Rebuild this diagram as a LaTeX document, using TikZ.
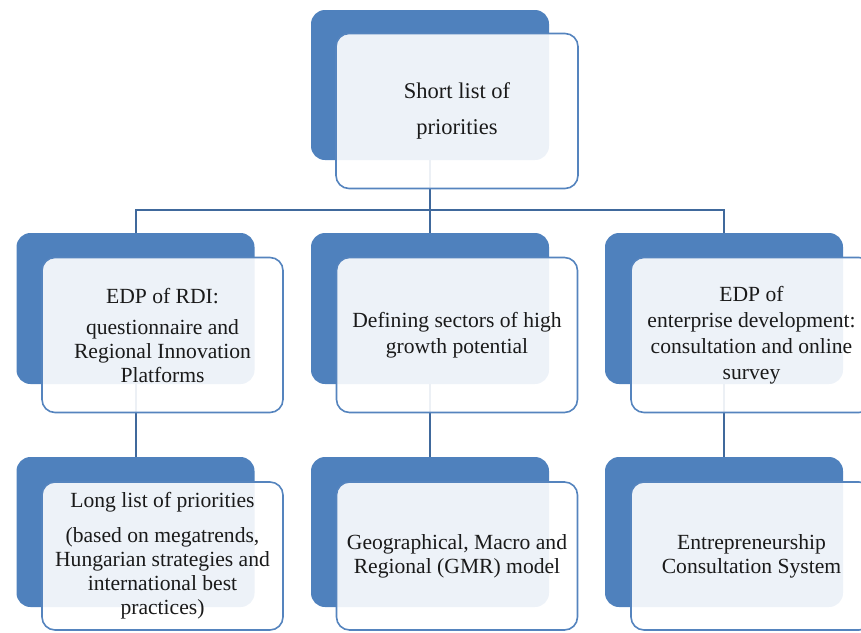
\documentclass[tikz,border=0pt]{standalone}
\usepackage{fontspec}
\setmainfont{Liberation Serif}
\definecolor{accent}{HTML}{4F81BD}
\definecolor{connector}{HTML}{40699C}
\definecolor{frontline}{HTML}{5584BE}
\definecolor{txt}{HTML}{1A1A1A}
\begin{document}
\begin{tikzpicture}[x=1pt,y=-1pt,
  backbox/.style={rectangle, rounded corners=14pt, fill=accent, draw=none,
    minimum width=238pt, minimum height=150pt, inner sep=0pt, outer sep=0pt},
  frontbox/.style={rectangle, rounded corners=13pt, fill=white, fill opacity=0.9,
    text opacity=1, draw=frontline, line width=1.6pt, draw opacity=1,
    minimum width=241pt, minimum height=155pt, inner sep=0pt, outer sep=0pt,
    align=center, text=txt, font=\fontsize{21.6}{24}\selectfont},
  link/.style={draw=connector, line width=2pt}]
\useasboundingbox (0,0) rectangle (861,632);
\clip (0,0) rectangle (861,632);

% back boxes
\node[backbox] (topback) at (430,85) {};
\node[backbox, minimum height=151pt] (lback) at (135.5,308.5) {};
\node[backbox, minimum height=151pt] (cback) at (430,308.5) {};
\node[backbox, minimum height=151pt] (rback) at (724,308.5) {};
\node[backbox] (lbback) at (135.5,532) {};
\node[backbox] (cbback) at (430,532) {};
\node[backbox] (rbback) at (724,532) {};

% connectors
\coordinate (hub) at (430,210);
\draw[link] (topback.south) -- (hub);
\draw[link] (hub) -| (lback.north);
\draw[link] (hub) -| (rback.north);
\draw[link] (hub) -- (cback.north);
\draw[link] (lback.south) -- (lbback.north);
\draw[link] (cback.south) -- (cbback.north);
\draw[link] (rback.south) -- (rbback.north);

% front boxes
\node[frontbox, minimum width=242pt, font=\fontsize{22.5}{24}\selectfont] (top) at (457,111)
  {Short list of\\[12pt]priorities};
\node[frontbox] (l) at (162.5,335)
  {EDP of RDI:\\[7pt]questionnaire and\\Regional Innovation\\Platforms};
\node[frontbox] (c) at (457,335)
  {Defining sectors of high\\[2pt]growth potential};
\node[frontbox] (r) at (751.5,335)
  {EDP of\\[2pt]enterprise development:\\[2pt]consultation and online\\[2pt]survey};
\node[frontbox, minimum height=148pt] (lb) at (162.5,556)
  {Long list of priorities\\[11pt](based on megatrends,\\Hungarian strategies and\\international best\\practices)};
\node[frontbox, minimum height=148pt] (cb) at (457,556)
  {Geographical, Macro and\\Regional (GMR) model};
\node[frontbox, minimum height=148pt] (rb) at (751.5,556)
  {Entrepreneurship\\Consultation System};
\end{tikzpicture}
\end{document}
